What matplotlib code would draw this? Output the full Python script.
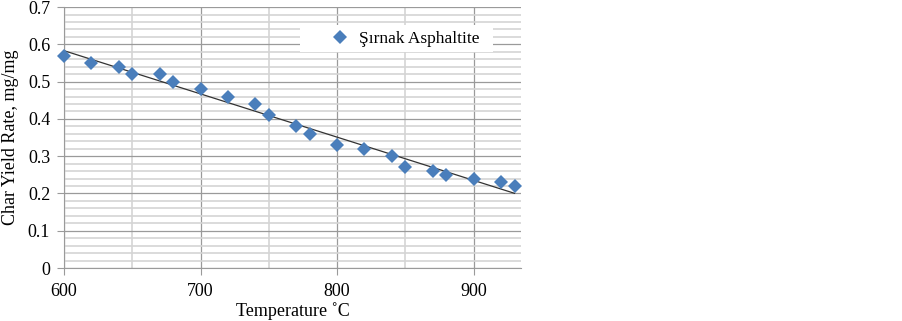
import numpy as np
import matplotlib
matplotlib.use("Agg")
import matplotlib.pyplot as plt
from matplotlib.ticker import MultipleLocator, FormatStrFormatter
from matplotlib.patches import Rectangle

plt.rcParams['font.family'] = ['Liberation Serif', 'DejaVu Serif']

temp = [600, 620, 640, 650, 670, 680, 700, 720, 740, 750, 770,
        780, 800, 820, 840, 850, 870, 880, 900, 920, 930]
char_yield = [0.57, 0.55, 0.54, 0.52, 0.52, 0.50, 0.48, 0.46, 0.44, 0.41, 0.38,
              0.36, 0.33, 0.32, 0.30, 0.27, 0.26, 0.25, 0.24, 0.23, 0.22]

fig = plt.figure(figsize=(9.02, 3.21), dpi=100)
ax = fig.add_axes([0.071, 0.165, 0.507, 0.813])

# linear trend line
k, b = np.polyfit(temp, char_yield, 1)
xs = np.array([temp[0], temp[-1]])
ax.plot(xs, k * xs + b, color='#333333', linewidth=0.9, zorder=3)

ax.plot(temp, char_yield, 'D', color='#4A7EBB', markersize=7.3,
        markeredgewidth=0, label='Şırnak Asphaltite', zorder=4, clip_on=False)

ax.set_xlim(600, 935)
ax.set_ylim(0, 0.7)
ax.xaxis.set_major_locator(MultipleLocator(100))
ax.xaxis.set_minor_locator(MultipleLocator(50))
ax.yaxis.set_major_locator(MultipleLocator(0.1))
ax.yaxis.set_minor_locator(MultipleLocator(0.02))
ax.yaxis.set_major_formatter(FormatStrFormatter('%g'))

ax.grid(which='minor', color='#d4d4d4', linewidth=1.2)
ax.grid(which='major', color='#9a9a9a', linewidth=0.9)
ax.set_axisbelow(True)

for s in ['top', 'right']:
    ax.spines[s].set_visible(False)
for s in ['left', 'bottom']:
    ax.spines[s].set_color('#9a9a9a')

ax.tick_params(which='major', direction='out', length=5, color='#9a9a9a',
               labelsize=13, pad=5)
ax.tick_params(which='minor', length=0)
ax.tick_params(axis='x', pad=6)

ax.set_xlabel('Temperature ˚C', fontsize=13, labelpad=1)
ax.set_ylabel('Char Yield Rate, mg/mg', fontsize=13, labelpad=6)

# white legend background box
ax.add_patch(Rectangle((0.516, 0.828), 0.423, 0.103, transform=ax.transAxes,
                       facecolor='white', edgecolor='none', zorder=2))
ax.legend(loc='center left', bbox_to_anchor=(0.584, 0.879), fontsize=12.5,
          frameon=False, handletextpad=0.6, borderpad=0, borderaxespad=0,
          handlelength=1.0)

fig.savefig('out.png', dpi=100)
